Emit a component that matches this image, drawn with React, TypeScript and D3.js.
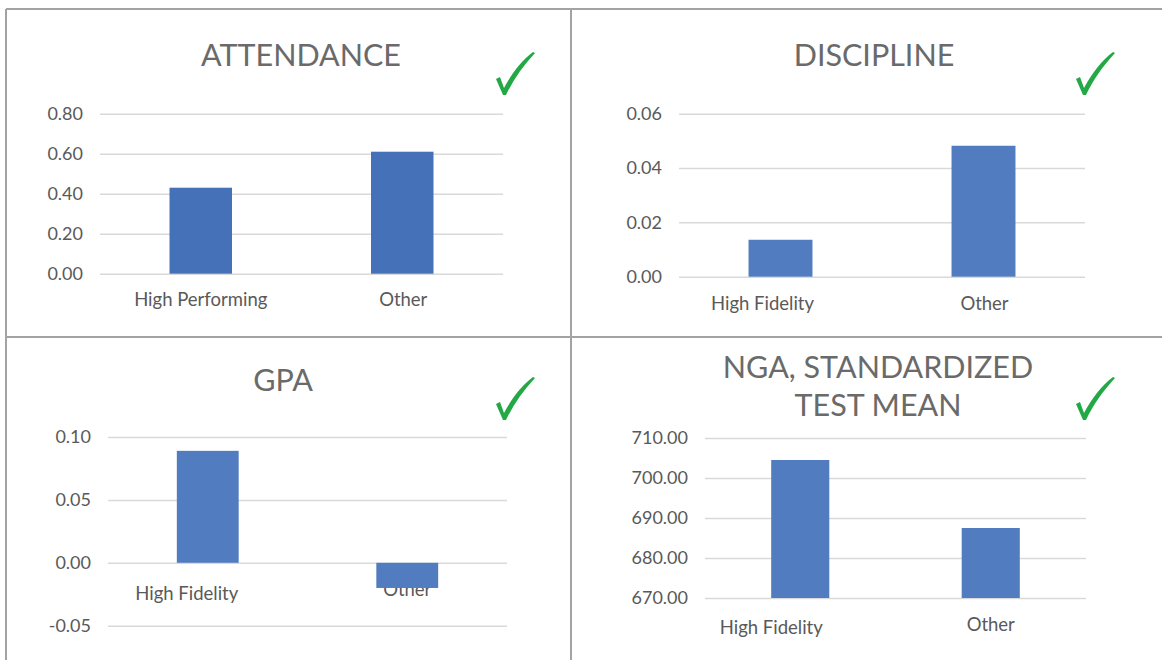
import { useRef, useEffect } from 'react';
import * as d3 from "d3";

// ATTENDANCE
const attendanceCategories = ["High Performing", "Other"];
const attendanceValues = [0.43, 0.61];
const attendanceTicks = [0, 0.2, 0.4, 0.6, 0.8];
const attendanceTickLabels = ["0.00", "0.20", "0.40", "0.60", "0.80"];

// DISCIPLINE
const disciplineCategories = ["High Fidelity", "Other"];
const disciplineValues = [0.0136, 0.0482];
const disciplineTicks = [0, 0.02, 0.04, 0.06];
const disciplineTickLabels = ["0.00", "0.02", "0.04", "0.06"];

// GPA
const gpaCategories = ["High Fidelity", "Other"];
const gpaValues = [0.089, -0.02];
const gpaTicks = [-0.05, 0, 0.05, 0.1];
const gpaTickLabels = ["-0.05", "0.00", "0.05", "0.10"];

// NGA, standardized test mean
const ngaCategories = ["High Fidelity", "Other"];
const ngaValues = [704.5, 687.5];
const ngaTicks = [670, 680, 690, 700, 710];
const ngaTickLabels = ["670.00", "680.00", "690.00", "700.00", "710.00"];

const W = 1162, H = 660;

// layout for each of the four tiles
const panels = [
  { title: ["ATTENDANCE"], titleX: 301, titleY: [66], cats: attendanceCategories, vals: attendanceValues,
    ticks: attendanceTicks, tickLabels: attendanceTickLabels, x0: 100, x1: 503, yTop: 113.7, yBot: 273.7,
    pad: 0.69, color: "#4571b8", labelDx: [0, 1], labelY: [306, 306], check: [503, 95] },
  { title: ["DISCIPLINE"], titleX: 874, titleY: [66], cats: disciplineCategories, vals: disciplineValues,
    ticks: disciplineTicks, tickLabels: disciplineTickLabels, x0: 679, x1: 1085, yTop: 113.7, yBot: 276.7,
    pad: 0.685, color: "#527cc0", labelDx: [-18, 1], labelY: [310, 310], check: [1083, 95] },
  { title: ["GPA"], titleX: 283, titleY: [391], cats: gpaCategories, vals: gpaValues,
    ticks: gpaTicks, tickLabels: gpaTickLabels, x0: 108, x1: 507, yTop: 437, yBot: 625.7,
    pad: 0.69, color: "#527cc0", labelDx: [-21, 0], labelY: [600, 596], check: [503, 420] },
  { title: ["NGA, STANDARDIZED", "TEST MEAN"], titleX: 878, titleY: [378, 416], cats: ngaCategories, vals: ngaValues,
    ticks: ngaTicks, tickLabels: ngaTickLabels, x0: 705, x1: 1086, yTop: 438, yBot: 598,
    pad: 0.695, color: "#527cc0", labelDx: [-29, 0], labelY: [634, 631], check: [1083, 420] },
];

const checkPath = "M-7,-16 L-3,-18 L1,-7 C9,-22 19,-35 30,-43 L32,-42 C20,-29 10,-15 3,0 L0,0 Z";

const App = () => {
  const ref = useRef<SVGSVGElement>(null);

  useEffect(() => {
    const svg = d3.select(ref.current);
    svg.selectAll("*").remove();

    // frame lines
    const frame = svg.append("g").attr("stroke", "#a3a3a3").attr("stroke-width", 2);
    frame.append("line").attr("x1", 6).attr("x2", W).attr("y1", 9).attr("y2", 9);
    frame.append("line").attr("x1", 6).attr("x2", 6).attr("y1", 9).attr("y2", H);
    frame.append("line").attr("x1", 571).attr("x2", 571).attr("y1", 9).attr("y2", H);
    frame.append("line").attr("x1", 6).attr("x2", W).attr("y1", 337).attr("y2", 337);

    panels.forEach((p) => {
      const g = svg.append("g");
      const ext = d3.extent(p.ticks) as [number, number];
      const y = d3.scaleLinear().domain(ext).range([p.yBot, p.yTop]);
      const x = d3.scaleBand().domain(p.cats).range([p.x0, p.x1])
        .paddingInner(p.pad).paddingOuter(p.pad / 2);

      // title
      g.append("text")
        .attr("x", p.titleX)
        .attr("text-anchor", "middle")
        .attr("fill", "#6a6a6a")
        .style("font-family", "Lato, 'Open Sans', sans-serif")
        .style("font-size", "30.5px")
        .selectAll("tspan").data(p.title).join("tspan")
        .attr("x", p.titleX).attr("y", (d, i) => p.titleY[i]).text((d) => d);

      // gridlines + tick labels
      const axis = d3.axisLeft(y).tickValues(p.ticks)
        .tickFormat((d, i) => p.tickLabels[i])
        .tickSize(-(p.x1 - p.x0)).tickPadding(17);
      const ag = g.append("g").attr("transform", `translate(${p.x0},0)`).call(axis);
      ag.select(".domain").remove();
      ag.selectAll(".tick line").attr("stroke", "#d9d9d9").attr("stroke-width", 1.5);
      ag.selectAll(".tick text").attr("fill", "#595959")
        .style("font-family", "Lato, sans-serif").style("font-size", "18px");

      // category labels (under the bars)
      g.selectAll("text.cat").data(p.cats).join("text").attr("class", "cat")
        .attr("x", (d, i) => (x(d) as number) + x.bandwidth() / 2 + p.labelDx[i])
        .attr("y", (d, i) => p.labelY[i])
        .attr("text-anchor", "middle")
        .attr("fill", "#595959")
        .style("font-family", "Lato, sans-serif").style("font-size", "18.5px")
        .text((d) => d);

      // bars
      const base = y(Math.max(ext[0], Math.min(ext[1], 0)));
      g.selectAll("rect.bar").data(p.vals).join("rect").attr("class", "bar")
        .attr("x", (d, i) => x(p.cats[i]) as number)
        .attr("width", x.bandwidth())
        .attr("y", (d) => Math.min(y(d), base))
        .attr("height", (d) => Math.abs(y(d) - base))
        .attr("fill", p.color);

      // check mark
      g.append("path").attr("d", checkPath)
        .attr("transform", `translate(${p.check[0]},${p.check[1]})`)
        .attr("fill", "#22a946");
    });
  }, []);

  return (
    <svg ref={ref} width={W} height={H}
      style={{ position: "absolute", left: 0, top: 0, background: "#fff" }} />
  );
};

export default App;
